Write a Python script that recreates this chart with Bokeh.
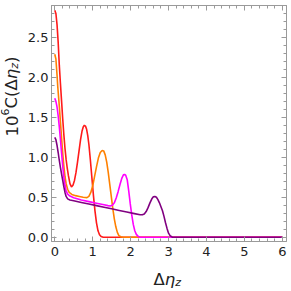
import math
from bokeh.plotting import figure
from bokeh.layouts import row, column
from bokeh.models import (Range1d, SingleIntervalTicker, LinearAxis, PrintfTickFormatter, Label,
                          CustomJSTickFormatter)
from bokeh.embed import file_html
from bokeh.resources import INLINE

# ---- data ----
red_x = [0.00, 0.03, 0.06, 0.09, 0.12, 0.15, 0.18, 0.21, 0.24, 0.27, 0.30, 0.33, 0.36, 0.40, 0.44,
         0.48, 0.52, 0.56, 0.60, 0.64, 0.68, 0.72, 0.75, 0.78, 0.81, 0.84, 0.87, 0.90, 0.94, 0.98,
         1.02, 1.06, 1.10, 1.14, 1.18, 1.22, 1.28, 6.00]
red_y = [2.84, 2.80, 2.66, 2.44, 2.15, 1.92, 1.70, 1.48, 1.28, 1.11, 0.97, 0.86, 0.77, 0.67, 0.63,
         0.65, 0.71, 0.81, 0.94, 1.08, 1.22, 1.33, 1.38, 1.40, 1.39, 1.35, 1.27, 1.16, 0.96, 0.74,
         0.52, 0.33, 0.18, 0.08, 0.03, 0.01, 0.00, 0.00]

orange_x = [0.00, 0.03, 0.06, 0.08, 0.10, 0.12, 0.15, 0.18, 0.21, 0.24, 0.27, 0.30, 0.34, 0.38, 0.45,
            0.55, 0.65, 0.75, 0.85, 0.90, 0.95, 1.00, 1.05, 1.10, 1.15, 1.20, 1.25, 1.29, 1.33, 1.37,
            1.41, 1.45, 1.49, 1.53, 1.57, 1.61, 1.65, 1.69, 1.74, 1.80, 6.00]
orange_y = [2.29, 2.23, 2.03, 1.88, 1.76, 1.64, 1.44, 1.24, 1.05, 0.89, 0.76, 0.67, 0.60, 0.56, 0.535,
            0.52, 0.51, 0.50, 0.495, 0.51, 0.56, 0.64, 0.76, 0.88, 0.99, 1.06, 1.085, 1.08, 1.03, 0.94,
            0.81, 0.66, 0.51, 0.36, 0.23, 0.13, 0.06, 0.02, 0.005, 0.00, 0.00]

magenta_x = [0.00, 0.03, 0.06, 0.09, 0.12, 0.15, 0.18, 0.21, 0.24, 0.27, 0.30, 0.34, 0.40, 0.50, 0.70,
             0.90, 1.10, 1.30, 1.40, 1.46, 1.52, 1.57, 1.62, 1.67, 1.72, 1.77, 1.81, 1.84, 1.87, 1.91,
             1.95, 1.99, 2.03, 2.07, 2.11, 2.15, 2.20, 2.26, 6.00]
magenta_y = [1.74, 1.70, 1.63, 1.52, 1.38, 1.22, 1.05, 0.89, 0.75, 0.65, 0.58, 0.54, 0.515, 0.495, 0.465,
             0.445, 0.425, 0.405, 0.395, 0.39, 0.40, 0.43, 0.49, 0.57, 0.66, 0.74, 0.78, 0.785, 0.775, 0.72,
             0.58, 0.42, 0.28, 0.16, 0.08, 0.035, 0.01, 0.00, 0.00]

purple_x = [0.00, 0.03, 0.06, 0.09, 0.12, 0.15, 0.18, 0.21, 0.24, 0.27, 0.30, 0.34, 0.40, 0.50, 0.70,
            0.90, 1.10, 1.30, 1.50, 1.70, 1.90, 2.10, 2.25, 2.31, 2.36, 2.41, 2.46, 2.51, 2.56, 2.60,
            2.64, 2.68, 2.72, 2.76, 2.80, 2.84, 2.88, 2.92, 2.96, 3.00, 3.04, 3.10, 6.00]
purple_y = [1.25, 1.22, 1.15, 1.06, 0.96, 0.87, 0.79, 0.71, 0.63, 0.56, 0.51, 0.48, 0.465, 0.455, 0.435,
            0.415, 0.395, 0.375, 0.355, 0.335, 0.315, 0.295, 0.28, 0.28, 0.29, 0.32, 0.37, 0.43, 0.48, 0.505,
            0.51, 0.50, 0.47, 0.43, 0.38, 0.33, 0.26, 0.18, 0.11, 0.05, 0.02, 0.00, 0.00]

series = [
    (red_x, red_y, "#ff1a1a"),
    (orange_x, orange_y, "#ff8000"),
    (magenta_x, magenta_y, "#ff00ff"),
    (purple_x, purple_y, "#800080"),
]

x_major = 1
y_major = 0.5

FONT = "DejaVu Sans"
GRAY = "#9a9a9a"
TXT = "#222222"

YLAB_W = 24
MAIN_H = 262

p = figure(width=291 - YLAB_W, height=MAIN_H, output_backend="svg", toolbar_location=None,
           x_range=Range1d(-0.086, 6.11), y_range=Range1d(-0.054, 2.90),
           min_border_left=49 - YLAB_W, min_border_right=5, min_border_top=5, min_border_bottom=21,
           x_axis_type=None, y_axis_type=None)
p.xgrid.visible = False
p.ygrid.visible = False
p.outline_line_color = GRAY
p.background_fill_color = "white"
p.border_fill_color = "white"

xt = SingleIntervalTicker(interval=x_major, num_minor_ticks=5)
yt = SingleIntervalTicker(interval=y_major, num_minor_ticks=5)


def style(ax):
    ax.axis_line_color = GRAY
    ax.major_tick_line_color = GRAY
    ax.minor_tick_line_color = GRAY
    ax.major_tick_in = 5
    ax.major_tick_out = 0
    ax.minor_tick_in = 3
    ax.minor_tick_out = 0
    ax.major_label_text_font = FONT
    ax.major_label_text_color = TXT
    ax.major_label_text_font_size = "13px"


bottom = LinearAxis(ticker=xt)
style(bottom)
bottom.major_label_standoff = 5
left = LinearAxis(ticker=yt, formatter=PrintfTickFormatter(format="%.1f"))
style(left)
left.major_label_standoff = 3
blank = CustomJSTickFormatter(code="return ''")
top = LinearAxis(ticker=xt, formatter=blank)
style(top)
top.major_label_standoff = 0
right = LinearAxis(ticker=yt, formatter=blank)
style(right)
right.major_label_standoff = 0
p.add_layout(bottom, "below")
p.add_layout(left, "left")
p.add_layout(top, "above")
p.add_layout(right, "right")

for xs, ys, c in series:
    p.line(xs, ys, line_color=c, line_width=1.6)


def label_fig(w, h):
    f = figure(width=w, height=h, output_backend="svg", toolbar_location=None,
               x_range=Range1d(0, 1), y_range=Range1d(0, 1),
               min_border_left=0, min_border_right=0, min_border_top=0, min_border_bottom=0,
               x_axis_type=None, y_axis_type=None)
    f.xgrid.visible = False
    f.ygrid.visible = False
    f.outline_line_color = None
    f.background_fill_color = "white"
    f.border_fill_color = "white"
    return f


def piece(f, x, y, t, size, angle=0.0, italic=False):
    f.add_layout(Label(x=x, y=y, x_units="screen", y_units="screen", text=t,
                       text_font=FONT, text_font_size=f"{size}px", text_color=TXT,
                       text_font_style="italic" if italic else "normal",
                       text_align="left", text_baseline="alphabetic", angle=angle))


FS = 16.5
SS = 11

# y label: 10^6 C(Δη_z), rotated, in its own narrow figure
ylab = label_fig(YLAB_W, MAIN_H)
A = math.pi / 2
lx, ly = 11.0, MAIN_H - 157.0
piece(ylab, lx, ly, "10", FS, A)
piece(ylab, lx - 6.5, ly + 21.0, "6", SS, A)
piece(ylab, lx, ly + 28.0, "C(Δ", FS, A)
piece(ylab, lx, ly + 57.2, "η", FS, A, italic=True)
piece(ylab, lx + 3.0, ly + 67.7, "z", SS, A, italic=True)
piece(ylab, lx, ly + 73.5, ")", FS, A)

# x label: Δη_z, in its own short figure
XLAB_H = 291 - MAIN_H
xlab = label_fig(291, XLAB_H)
bx, by = 153.0, 291 - 279.0
piece(xlab, bx, by, "Δ", FS)
piece(xlab, bx + 11.3, by, "η", FS, italic=True)
piece(xlab, bx + 21.8, by - 3.0, "z", SS, italic=True)

layout = column(row(ylab, p, spacing=0), xlab, spacing=0)

open("out.html", "w").write(file_html(layout, INLINE))
